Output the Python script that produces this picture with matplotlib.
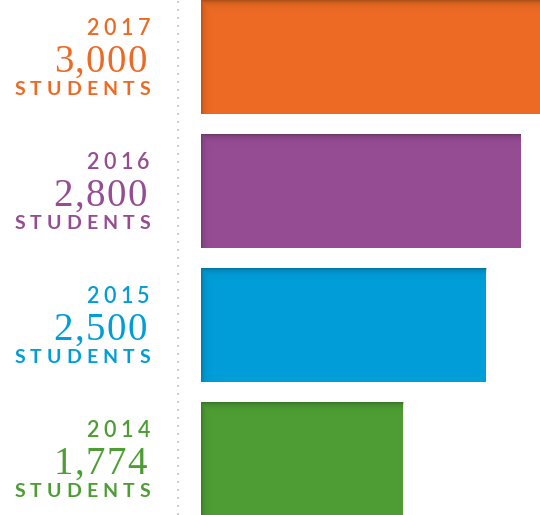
import numpy as np
from matplotlib import pyplot as plt
from matplotlib.lines import Line2D
from matplotlib.transforms import IdentityTransform

years = ["2017", "2016", "2015", "2014"]
students = [3000, 2800, 2500, 1774]
student_labels = ["3,000", "2,800", "2,500", "1,774"]
colours = ["#EC6A23", "#954C93", "#009DD9", "#4D9D34"]

W, H, DPI = 540, 515, 100


def tracked_text(fig, x_right, y_base, s, tracking, **kw):
    """Right aligned text on a pixel baseline with extra letter spacing."""
    renderer = fig.canvas.get_renderer()
    x = x_right
    for ch in reversed(s):
        t = fig.text(x, y_base, ch, transform=IdentityTransform(), ha="right", va="baseline", **kw)
        x -= t.get_window_extent(renderer).width + tracking


def edge_shade(ax, bar, strength=0.25, scale=3.0):
    """Darker inner shading along the top and left edge of a bar."""
    x0, y0, x1, y1 = bar.get_bbox().extents
    (px0, py0), (px1, py1) = ax.transData.transform([(x0, y0), (x1, y1)])
    w, h = int(round(px1 - px0)), int(round(py1 - py0))
    dx = np.arange(w)[None, :]
    dy = np.arange(h)[:, None]
    alpha = strength * np.maximum(np.exp(-dy / scale), 0.8 * np.exp(-dx / scale))
    img = np.zeros((h, w, 4))
    img[..., 3] = alpha
    im = ax.imshow(img, extent=(x0, x1, y0, y1), origin="upper", aspect="auto", interpolation="bilinear", zorder=3)
    im.set_clip_path(bar)


fig = plt.figure(figsize=(W / DPI, H / DPI), dpi=DPI)
ax = fig.add_axes([201 / W, 0, 1 - 201 / W, 1])

ypos = np.arange(len(years))[::-1]
bars = ax.barh(ypos, students, height=0.847, color=colours, zorder=2)
ax.set_xlim(0, 339 / (319.5 / 2800))
ax.set_ylim(-56.2 / 134, 3 + 56.8 / 134)
ax.axis("off")

for b in bars:
    edge_shade(ax, b)

fig.add_artist(Line2D([178 / W, 178 / W], [0, 1], transform=fig.transFigure, color="#cbcbcb",
                      lw=1.44, linestyle=(0, (1, 3))))

fig.canvas.draw()
for y, yr, lab, c in zip(ypos, years, student_labels, colours):
    yc = ax.transData.transform((0, y))[1]
    tracked_text(fig, 150, yc + 22, yr, 4.5, fontsize=15.5, family="Lato", fontweight="semibold", color=c)
    tracked_text(fig, 147, yc - 15, lab, 1.5, fontsize=28, family="Liberation Serif", color=c)
    tracked_text(fig, 150, yc - 38, "STUDENTS", 5.0, fontsize=14, family="Lato", fontweight="bold", color=c)

fig.savefig("out.png", dpi=DPI)
